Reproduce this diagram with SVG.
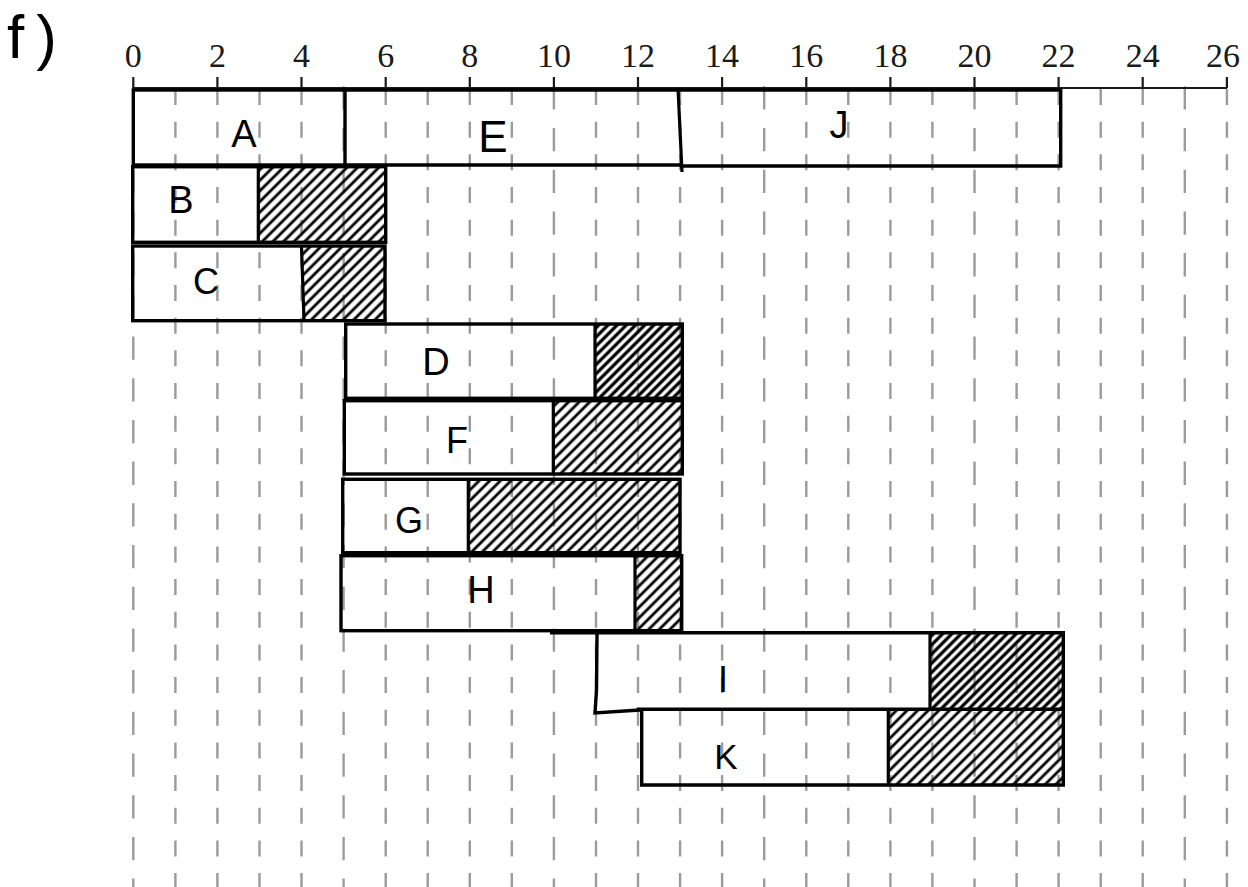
<svg xmlns="http://www.w3.org/2000/svg" width="1248" height="887" viewBox="0 0 1248 887">
<style>
.grid{stroke:#9b9b9b;stroke-width:2.4;fill:none}
.g1{stroke-dasharray:16 16.67}
.g5{stroke-dasharray:23.3 18.4}
.ax{stroke:#1a1a1a;stroke-width:2.2;fill:none}
.num{font-family:"Liberation Serif","Times New Roman",serif;font-size:34px;fill:#1a1a1a;text-anchor:middle}
.bar{fill:none;stroke:#000;stroke-width:3.4;stroke-linejoin:miter}
.div{stroke:#000;stroke-width:3.2;fill:none}
.lbl{font-family:"Liberation Sans",Arial,sans-serif;font-size:38px;fill:#000;text-anchor:middle}
</style>
<defs>
<pattern id="hatch" patternUnits="userSpaceOnUse" width="7.5" height="7.5" patternTransform="rotate(45)">
<line x1="3.75" y1="0" x2="3.75" y2="7.5" stroke="#000" stroke-width="2.8"/>
</pattern>
<pattern id="hatchDense" patternUnits="userSpaceOnUse" width="6.5" height="6.5" patternTransform="rotate(45)">
<line x1="3.25" y1="0" x2="3.25" y2="6.5" stroke="#000" stroke-width="3.3"/>
</pattern>
</defs>
<rect width="1248" height="887" fill="#fff"/>
<g id="grid">
<path class="grid g5" d="M133.3 86.3V887M343.6 86.3V887M553.9 86.3V887M764.2 86.3V887M974.5 86.3V887M1184.8 86.3V887"/>
<path class="grid g1" d="M175.4 89V887M217.4 89V887M259.5 89V887M301.5 89V887M385.7 89V887M427.7 89V887M469.8 89V887M511.8 89V887M596 89V887M638 89V887M680.1 89V887M722.1 89V887M806.3 89V887M848.3 89V887M890.4 89V887M932.4 89V887M1016.6 89V887M1058.6 89V887M1100.7 89V887M1142.7 89V887M1226.9 89V887"/>
</g>
<g id="axis">
<path class="ax" d="M133.3 88H1227M133.3 77V88M217.4 77V88M301.5 77V88M385.7 77V88M469.8 77V88M553.9 77V88M638 77V88M722.1 77V88M806.3 77V88M890.4 77V88M974.5 77V88M1058.6 77V88M1142.7 77V88M1226.9 77V88"/>
<text class="num" x="133.3" y="67">0</text>
<text class="num" x="217.4" y="67">2</text>
<text class="num" x="301.5" y="67">4</text>
<text class="num" x="385.7" y="67">6</text>
<text class="num" x="469.8" y="67">8</text>
<text class="num" x="553.9" y="67">10</text>
<text class="num" x="638" y="67">12</text>
<text class="num" x="722.1" y="67">14</text>
<text class="num" x="806.3" y="67">16</text>
<text class="num" x="890.4" y="67">18</text>
<text class="num" x="974.5" y="67">20</text>
<text class="num" x="1058.6" y="67">22</text>
<text class="num" x="1142.7" y="67">24</text>
<text class="num" x="1223" y="67">26</text>
</g>
<text x="7" y="58" font-family="Liberation Sans, Arial, sans-serif" font-size="62" letter-spacing="12" fill="#000">f)</text>
<g id="node-A">
<rect class="bar" x="133.3" y="90" width="211.7" height="75"/>
<text class="lbl" x="244" y="147">A</text>
</g>
<g id="node-E">
<path class="bar" d="M345 90H678M345 165H680"/>
<text class="lbl" x="493" y="152" style="font-size:44px">E</text>
</g>
<g id="node-J">
<path class="bar" d="M678 90H1060.7V166H680"/>
<path class="div" d="M678 88L682 172"/>
<text class="lbl" x="839" y="138">J</text>
</g>
<g id="node-B">
<rect x="258.3" y="166.7" width="127.4" height="75.6" fill="url(#hatch)"/>
<rect class="bar" x="132.7" y="166.7" width="253" height="75.6"/>
<path class="div" d="M258.3 166.7V242.3"/>
<text class="lbl" x="181" y="213">B</text>
</g>
<g id="node-C">
<rect x="302.7" y="246" width="82.3" height="74.7" fill="url(#hatch)"/>
<rect class="bar" x="132.7" y="246" width="252.3" height="74.7"/>
<path class="div" d="M301.5 246L304 320.7"/>
<text class="lbl" x="206" y="294" style="font-size:36px">C</text>
</g>
<g id="node-D">
<rect x="595" y="324" width="87.3" height="74.3" fill="url(#hatchDense)"/>
<rect class="bar" x="345.7" y="324" width="336.6" height="74.3"/>
<path class="div" d="M595 324V398.3"/>
<text class="lbl" x="436" y="375">D</text>
</g>
<g id="node-F">
<rect x="553.3" y="400.7" width="129" height="73.3" fill="url(#hatch)"/>
<rect class="bar" x="344.3" y="400.7" width="338" height="73.3"/>
<path class="div" d="M553.3 400.7V474"/>
<text class="lbl" x="457" y="453" style="font-size:36px">F</text>
</g>
<g id="node-G">
<rect x="468.3" y="479.3" width="211.7" height="73.4" fill="url(#hatch)"/>
<rect class="bar" x="342.7" y="479.3" width="337.3" height="73.4"/>
<path class="div" d="M468.3 479.3V552.7"/>
<text class="lbl" x="409" y="533" style="font-size:36px">G</text>
</g>
<g id="node-H">
<rect x="635" y="555.7" width="46.7" height="75" fill="url(#hatch)"/>
<rect class="bar" x="341" y="555.7" width="340.7" height="75"/>
<path class="div" d="M635 555.7V630.7"/>
<text class="lbl" x="481" y="603">H</text>
</g>
<g id="node-I">
<rect x="930" y="634" width="133.3" height="75.3" fill="url(#hatchDense)"/>
<path class="bar" d="M550 632.8H1063.3V709.3M597 633.5L596.5 690L595 713L640 710"/>
<path class="div" d="M930 634V709.3"/>
<text class="lbl" x="723" y="692" style="font-size:36px">I</text>
</g>
<g id="node-K">
<rect x="888.3" y="709.3" width="175" height="75.7" fill="url(#hatch)"/>
<path class="bar" d="M636.7 709.3H1065M641.7 709.3V785H1063.3V709.3"/>
<path class="div" d="M888.3 709.3V785"/>
<text class="lbl" x="726" y="769" style="font-size:35px">K</text>
</g>
<g id="connectors"></g>
</svg>
